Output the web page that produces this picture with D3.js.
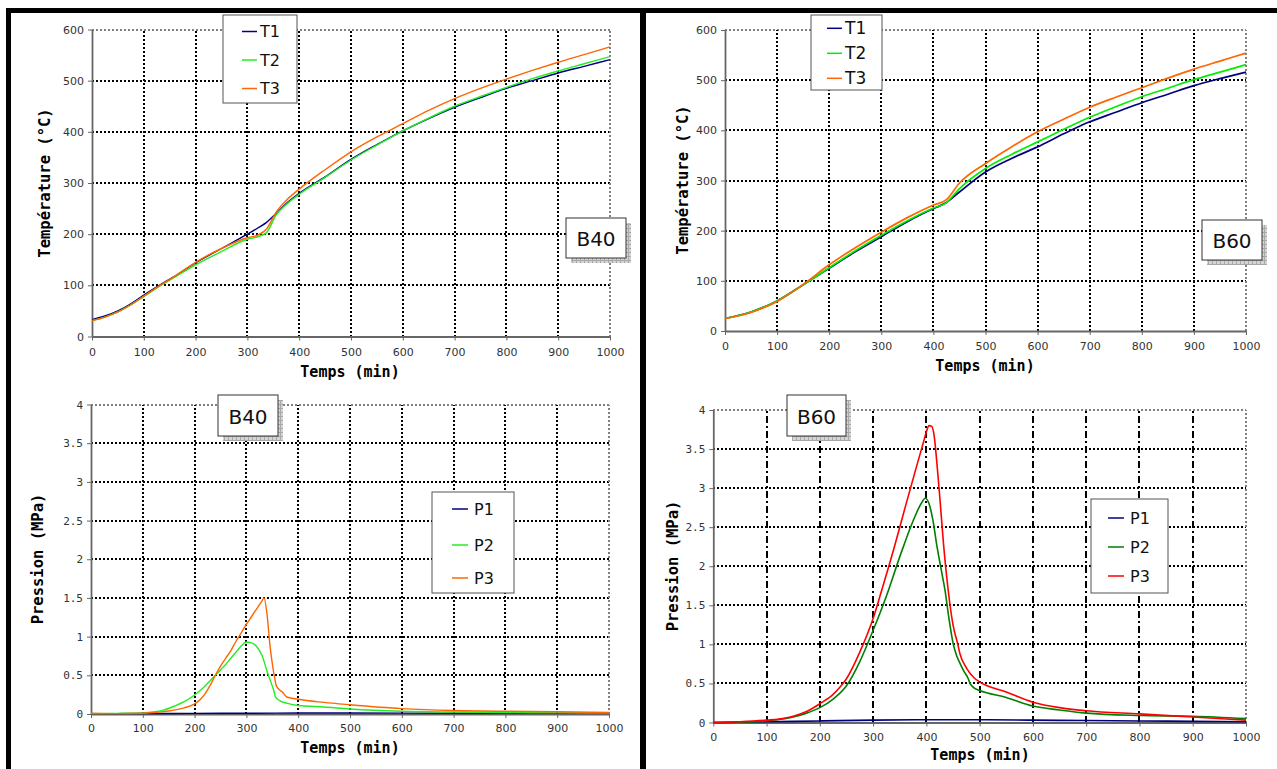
<!DOCTYPE html>
<html><head><meta charset="utf-8">
<script src="https://cdn.jsdelivr.net/npm/d3@7"></script>
<style>body{margin:0;background:#fff}svg{display:block}</style>
</head><body>
<svg id="c" width="1277" height="769"></svg>
<script>
// ---------------- DATA ----------------
const timeTicks = [0,100,200,300,400,500,600,700,800,900,1000];
const tempTicks = [0,100,200,300,400,500,600];
const presTicks = [0,0.5,1,1.5,2,2.5,3,3.5,4];
const presTickLabels = ["0","0.5","1","1.5","2","2.5","3","3.5","4"];
const tempSeriesNames = ["T1","T2","T3"];
const presSeriesNames = ["P1","P2","P3"];
const panelLabels = ["B40","B60"];
const xTitle = "Temps (min)";
const tempTitle = "Température (°C)";
const presTitle = "Pression (MPa)";

// B40 temperature
const b40TempTime = [0,25,50,75,100,130,160,200,250,300,320,337,355,375,400,450,500,550,600,650,700,750,800,850,900,950,1000];
const b40T1 = [33,40,50,64,81,100,118,144,172,200,212,223,240,260,280,312,346,375,402,426,448,467,485,500,515,528,541];
const b40T2 = [31,38,48,62,78,98,116,140,166,190,195,203,237,258,278,311,345,374,402,427,450,469,487,504,519,533,547];
const b40T3 = [31,38,48,62,79,99,118,145,172,193,198,210,242,266,288,326,361,390,416,442,465,485,503,520,536,551,566];

// B60 temperature
const b60TempTime = [0,50,100,150,200,250,300,350,400,425,450,500,550,600,650,700,750,800,850,900,950,1000];
const b60T1 = [25,38,60,92,125,158,188,218,244,256,277,317,344,367,393,417,436,455,472,489,503,516];
const b60T2 = [25,38,60,92,126,160,191,220,245,256,284,324,352,377,402,426,447,467,484,501,516,531];
const b60T3 = [25,37,59,93,132,166,197,226,251,262,295,334,367,397,422,446,466,485,504,522,538,554];

// B40 pressure
const b40P1Time = [0,100,200,300,400,500,700,1000];
const b40P1 = [0.005,0.006,0.008,0.01,0.012,0.012,0.01,0.008];
const b40P2Time = [0,50,100,120,140,160,180,200,210,220,230,240,250,260,270,280,290,300,310,320,330,340,350,353,356,365,378,400,450,500,600,700,800,900,1000];
const b40P2 = [0.005,0.008,0.015,0.025,0.05,0.1,0.16,0.245,0.3,0.36,0.43,0.5,0.57,0.64,0.72,0.8,0.88,0.93,0.92,0.87,0.76,0.55,0.36,0.3,0.22,0.17,0.14,0.11,0.09,0.065,0.035,0.025,0.02,0.015,0.012];
const b40P3Time = [0,50,100,120,140,160,180,200,210,220,230,240,250,260,270,280,290,300,310,320,330,334,340,345,350,355,358,370,378,400,450,500,600,700,800,900,1000];
const b40P3 = [0.01,0.005,0.01,0.02,0.03,0.05,0.08,0.13,0.18,0.26,0.37,0.5,0.62,0.72,0.82,0.94,1.05,1.16,1.26,1.36,1.46,1.5,1.28,0.92,0.65,0.45,0.36,0.28,0.22,0.19,0.15,0.12,0.07,0.045,0.035,0.03,0.02];

// B60 pressure
const b60P1Time = [0,100,200,300,400,500,600,700,800,900,1000];
const b60P1 = [0.0,0.01,0.02,0.03,0.035,0.035,0.03,0.025,0.02,0.015,0.01];
const b60P2Time = [0,50,100,130,150,175,200,225,250,275,300,325,350,375,390,398,405,412,420,428,435,442,450,457,463,470,478,482,490,500,550,600,650,700,800,900,1000];
const b60P2 = [0,0.005,0.02,0.045,0.07,0.12,0.19,0.3,0.47,0.78,1.18,1.62,2.12,2.58,2.8,2.87,2.8,2.6,2.25,1.95,1.69,1.35,1.02,0.85,0.76,0.66,0.57,0.5,0.44,0.41,0.32,0.21,0.16,0.12,0.09,0.08,0.05];
const b60P3Time = [0,50,100,130,150,175,200,225,240,250,275,300,316,340,360,380,395,400,405,410,415,420,425,432,441,450,459,463,475,490,500,550,600,650,700,800,900,1000];
const b60P3 = [0,0.01,0.03,0.05,0.08,0.14,0.24,0.36,0.47,0.56,0.9,1.33,1.69,2.25,2.75,3.24,3.6,3.72,3.8,3.79,3.65,3.3,2.9,2.3,1.69,1.25,1.0,0.88,0.7,0.57,0.52,0.39,0.26,0.19,0.15,0.11,0.07,0.03];

// ---------------- DRAWING ----------------
const svg = d3.select("#c");
const defs = svg.append("defs");
const pat = defs.append("pattern").attr("id","hatch").attr("width",4).attr("height",4).attr("patternUnits","userSpaceOnUse");
pat.append("rect").attr("width",4).attr("height",4).attr("fill","#d4d4d4");
pat.append("path").attr("d","M0,0.5H4M0.5,0V4").attr("stroke","#a8a8a8").attr("stroke-width",1);

// frame
svg.append("rect").attr("x",6).attr("y",8).attr("width",1271).attr("height",5).attr("fill","#000");
svg.append("rect").attr("x",6).attr("y",8).attr("width",5).attr("height",761).attr("fill","#000");
svg.append("rect").attr("x",640).attr("y",8).attr("width",6).attr("height",761).attr("fill","#000");

const SANS = "'DejaVu Sans', Verdana, sans-serif";
const MONO = "'DejaVu Sans Mono', monospace";

function zip(t, v){ return t.map((d,i)=>[d, v[i]]); }

function panel(p){
  const x = d3.scaleLinear().domain([0,1000]).range([p.x0,p.x1]);
  const y = d3.scaleLinear().domain(p.yDomain).range([p.yBot,p.yTop]);
  const g = svg.append("g");
  const ymax = p.yDomain[1];

  // horizontal grid
  g.selectAll(null).data(p.yTicks.filter(v=>v>0)).join("line")
    .attr("x1",p.x0).attr("x2",p.x1).attr("y1",d=>Math.round(y(d))).attr("y2",d=>Math.round(y(d)))
    .attr("stroke",d=>d===ymax?"#808080":"#000").attr("stroke-width",2)
    .attr("shape-rendering","crispEdges")
    .attr("stroke-dasharray","2,2");
  // vertical grid
  g.selectAll(null).data(timeTicks.filter(v=>v>0)).join("line")
    .attr("y1",p.yBot).attr("y2",p.yTop).attr("x1",d=>Math.round(x(d))).attr("x2",d=>Math.round(x(d)))
    .attr("stroke",d=>d===1000?"#808080":"#000").attr("stroke-width",2)
    .attr("shape-rendering","crispEdges")
    .attr("stroke-dasharray",d=>d===1000?"2,2":p.vDash);

  // axes
  const ya = d3.axisLeft(y).tickValues(p.yTicks).tickSize(4).tickSizeOuter(0).tickPadding(p.yPad)
    .tickFormat((d,i)=>p.yLabels[i]);
  const yg = g.append("g").attr("transform",`translate(${p.x0},0)`).call(ya);
  const xa = d3.axisBottom(x).tickValues(timeTicks).tickSize(4).tickSizeOuter(0).tickPadding(p.xPad)
    .tickFormat(d3.format("d"));
  const xg = g.append("g").attr("transform",`translate(0,${p.yBot})`).call(xa);
  [yg,xg].forEach(a=>{
    a.select(".domain").attr("stroke","#666").attr("stroke-width",1.8);
    a.selectAll(".tick line").attr("stroke","#666");
    a.selectAll("text").attr("fill","#333").style("font-size","11px");
  });
  yg.selectAll("text").style("font-family",p.yFont);
  xg.selectAll("text").style("font-family",SANS);

  // titles
  g.append("text").attr("x",p.xtX).attr("y",p.xtY).attr("text-anchor","middle")
    .attr("dominant-baseline","central").style("font-family",MONO).style("font-weight","bold")
    .style("font-size","15px").attr("fill","#000").text(xTitle);
  g.append("text").attr("transform",`translate(${p.ytX},${p.ytY}) rotate(-90)`).attr("text-anchor","middle")
    .attr("dominant-baseline","central").style("font-family",MONO).style("font-weight","bold")
    .style("font-size","15.5px").attr("fill","#000").text(p.yTitle);

  // series
  const line = d3.line().x(d=>x(d[0])).y(d=>y(d[1])).curve(d3.curveMonotoneX);
  p.series.forEach(s=>{
    g.append("path").datum(zip(s.t,s.v)).attr("d",line).attr("fill","none")
      .attr("stroke",s.color).attr("stroke-width",p.lw).attr("stroke-linejoin","round");
  });

  // legend
  const L = p.legend;
  g.append("rect").attr("x",L.x).attr("y",L.y).attr("width",L.w).attr("height",L.h)
    .attr("fill","#fff").attr("stroke","#555").attr("stroke-width",1);
  p.series.forEach((s,i)=>{
    const yy = L.rows[i];
    g.append("line").attr("x1",L.lx0).attr("x2",L.lx1).attr("y1",yy).attr("y2",yy)
      .attr("stroke",s.color).attr("stroke-width",1.5);
    g.append("text").attr("x",L.tx).attr("y",yy).attr("dominant-baseline","central")
      .style("font-family",SANS).style("font-size",L.fs+"px").attr("fill","#111").text(s.name);
  });

  // label box
  const B = p.box;
  g.append("rect").attr("x",B.x+5).attr("y",B.y+5).attr("width",B.w).attr("height",B.h).attr("fill","url(#hatch)");
  g.append("rect").attr("x",B.x).attr("y",B.y).attr("width",B.w).attr("height",B.h)
    .attr("fill","#fff").attr("stroke","#333").attr("stroke-width",1);
  g.append("text").attr("x",B.x+B.w/2).attr("y",B.y+B.h/2+1).attr("text-anchor","middle")
    .attr("dominant-baseline","central").style("font-family",SANS).style("font-size","20px")
    .attr("fill","#111").text(p.label);
}

const tempLabels = tempTicks.map(String);

panel({
  x0:92, x1:610, yTop:29.5, yBot:336.5, yDomain:[0,600], yTicks:tempTicks, yLabels:tempLabels,
  yFont:SANS, yPad:4, xPad:8, vDash:"2,2", lw:1.4,
  xtX:350, xtY:372, ytX:45, ytY:183, yTitle:tempTitle, label:panelLabels[0],
  series:[{name:tempSeriesNames[0],t:b40TempTime,v:b40T1,color:"#000080"},
          {name:tempSeriesNames[1],t:b40TempTime,v:b40T2,color:"#22ee22"},
          {name:tempSeriesNames[2],t:b40TempTime,v:b40T3,color:"#ff6600"}],
  legend:{x:223,y:15,w:74,h:88,rows:[31.5,60,88.5],lx0:242,lx1:257,tx:260,fs:16},
  box:{x:566,y:218,w:60,h:40}
});

panel({
  x0:725, x1:1246, yTop:30, yBot:331, yDomain:[0,600], yTicks:tempTicks, yLabels:tempLabels,
  yFont:SANS, yPad:4, xPad:7, vDash:"2,2", lw:1.7,
  xtX:985, xtY:366, ytX:683, ytY:180, yTitle:tempTitle, label:panelLabels[1],
  series:[{name:tempSeriesNames[0],t:b60TempTime,v:b60T1,color:"#000080"},
          {name:tempSeriesNames[1],t:b60TempTime,v:b60T2,color:"#00ee00"},
          {name:tempSeriesNames[2],t:b60TempTime,v:b60T3,color:"#ff6600"}],
  legend:{x:811,y:15,w:71,h:75,rows:[28.3,53.3,78.3],lx0:827,lx1:842,tx:845,fs:17},
  box:{x:1202,y:220,w:60,h:40}
});

panel({
  x0:91, x1:609, yTop:404.5, yBot:714, yDomain:[0,4], yTicks:presTicks, yLabels:presTickLabels,
  yFont:MONO, yPad:4, xPad:6.5, vDash:"2,2", lw:1.4,
  xtX:350, xtY:748, ytX:38, ytY:559, yTitle:presTitle, label:panelLabels[0],
  series:[{name:presSeriesNames[0],t:b40P1Time,v:b40P1,color:"#000080"},
          {name:presSeriesNames[1],t:b40P2Time,v:b40P2,color:"#22ee22"},
          {name:presSeriesNames[2],t:b40P3Time,v:b40P3,color:"#ff6600"}],
  legend:{x:432,y:492,w:82,h:101,rows:[509,545,578],lx0:452,lx1:468,tx:474,fs:16},
  box:{x:218,y:395,w:60,h:41}
});

panel({
  x0:713.3, x1:1246, yTop:410, yBot:722.5, yDomain:[0,4], yTicks:presTicks, yLabels:presTickLabels,
  yFont:MONO, yPad:4, xPad:6.5, vDash:"7,3,2,3", lw:1.6,
  xtX:980, xtY:755, ytX:673, ytY:566, yTitle:presTitle, label:panelLabels[1],
  series:[{name:presSeriesNames[0],t:b60P1Time,v:b60P1,color:"#000080"},
          {name:presSeriesNames[1],t:b60P2Time,v:b60P2,color:"#008000"},
          {name:presSeriesNames[2],t:b60P3Time,v:b60P3,color:"#ff0000"}],
  legend:{x:1091,y:499,w:77,h:94,rows:[518,547,576],lx0:1108,lx1:1124,tx:1130,fs:16},
  box:{x:787,y:395,w:59,h:41}
});
</script>
</body></html>
